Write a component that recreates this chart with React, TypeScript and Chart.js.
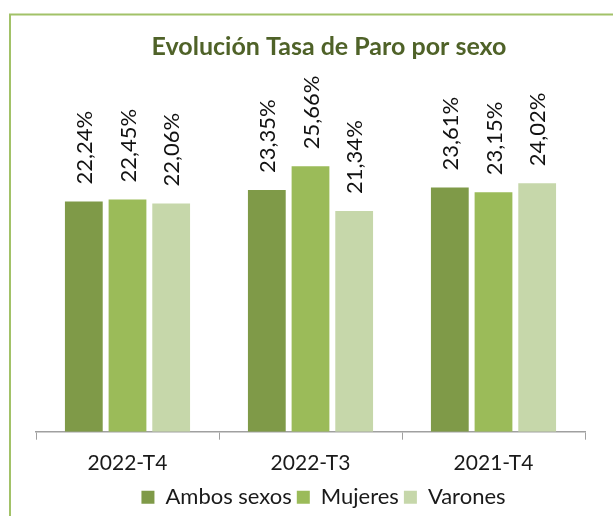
import React, { useEffect, useRef } from "react";
import { Chart, registerables } from "chart.js";

Chart.register(...registerables);

const categories = ["2022-T4", "2022-T3", "2021-T4"];
const seriesNames = ["Ambos sexos", "Mujeres", "Varones"];
const ambosSexos = [22.24, 23.35, 23.61];
const mujeres = [22.45, 25.66, 23.15];
const varones = [22.06, 21.34, 24.02];
const seriesColors = ["#7F9A48", "#9BBB59", "#C6D7AA"];
const titleText = "Evolución Tasa de Paro por sexo";

const fmt = (v: number) => v.toFixed(2).replace(".", ",") + "%";

const framePlugin = {
  id: "frameAndTitle",
  afterLayout(chart: any) {
    const lg = chart.legend;
    if (lg) {
      lg.left += 13;
      lg.right += 13;
      lg.top += 3;
      lg.bottom += 3;
    }
  },
  beforeDraw(chart: any) {
    const ctx = chart.ctx;
    ctx.save();
    ctx.fillStyle = "#ffffff";
    ctx.fillRect(0, 0, chart.width, chart.height);
    ctx.strokeStyle = "#A2C268";
    ctx.lineWidth = 2;
    ctx.beginPath();
    ctx.moveTo(10, chart.height + 10);
    ctx.lineTo(10, 14.5);
    ctx.lineTo(chart.width + 10, 14.5);
    ctx.stroke();
    ctx.fillStyle = "#4F6228";
    ctx.font = "bold 25px Lato";
    ctx.textAlign = "center";
    ctx.textBaseline = "middle";
    ctx.fillText(titleText, 329, 47);
    ctx.restore();
  },
};

const labelPlugin = {
  id: "barLabels",
  afterDatasetsDraw(chart: any) {
    const ctx = chart.ctx;
    ctx.save();
    ctx.fillStyle = "#111111";
    ctx.font = "22px Lato";
    ctx.textAlign = "left";
    ctx.textBaseline = "middle";
    chart.data.datasets.forEach((ds: any, di: number) => {
      const meta = chart.getDatasetMeta(di);
      meta.data.forEach((bar: any, i: number) => {
        ctx.save();
        ctx.translate(bar.x + 1, bar.y - 17);
        ctx.rotate(-Math.PI / 2);
        ctx.fillText(fmt(ds.data[i]), 0, 0);
        ctx.restore();
      });
    });
    ctx.restore();
  },
};

export default function App() {
  const ref = useRef<HTMLCanvasElement>(null);
  useEffect(() => {
    const chart = new Chart(ref.current!, {
      type: "bar",
      data: {
        labels: categories,
        datasets: [ambosSexos, mujeres, varones].map((d, i) => ({
          label: seriesNames[i],
          data: d,
          backgroundColor: seriesColors[i],
          borderWidth: 0,
          categoryPercentage: 0.716,
          barPercentage: 0.865,
        })),
      },
      options: {
        animation: false,
        responsive: false,
        layout: { padding: { left: 36, right: 28, top: 121.3, bottom: 0.8 } },
        plugins: {
          title: { display: false },
          tooltip: { enabled: false },
          legend: {
            position: "bottom",
            labels: {
              boxWidth: 13,
              boxHeight: 13,
              padding: 5,
              color: "#1a1a1a",
              font: { family: "Lato", size: 22 },
            },
          },
        },
        scales: {
          x: {
            offset: true,
            grid: {
              offset: true,
              drawOnChartArea: false,
              drawTicks: true,
              tickLength: 8,
              color: "#A0A0A0",
            },
            border: { color: "#A0A0A0", width: 1.5 },
            ticks: {
              color: "#1a1a1a",
              font: { family: "Lato", size: 21 },
              padding: 11,
            },
            afterFit: (s: any) => {
              s.height = 46.5;
            },
          },
          y: { display: false, min: 0, max: 30 },
        },
      },
      plugins: [framePlugin, labelPlugin],
    });
    return () => chart.destroy();
  }, []);
  return (
    <div style={{ position: "fixed", left: 0, top: 0, width: 613, height: 516 }}>
      <canvas ref={ref} width={613} height={516} style={{ width: 613, height: 516 }} />
    </div>
  );
}
